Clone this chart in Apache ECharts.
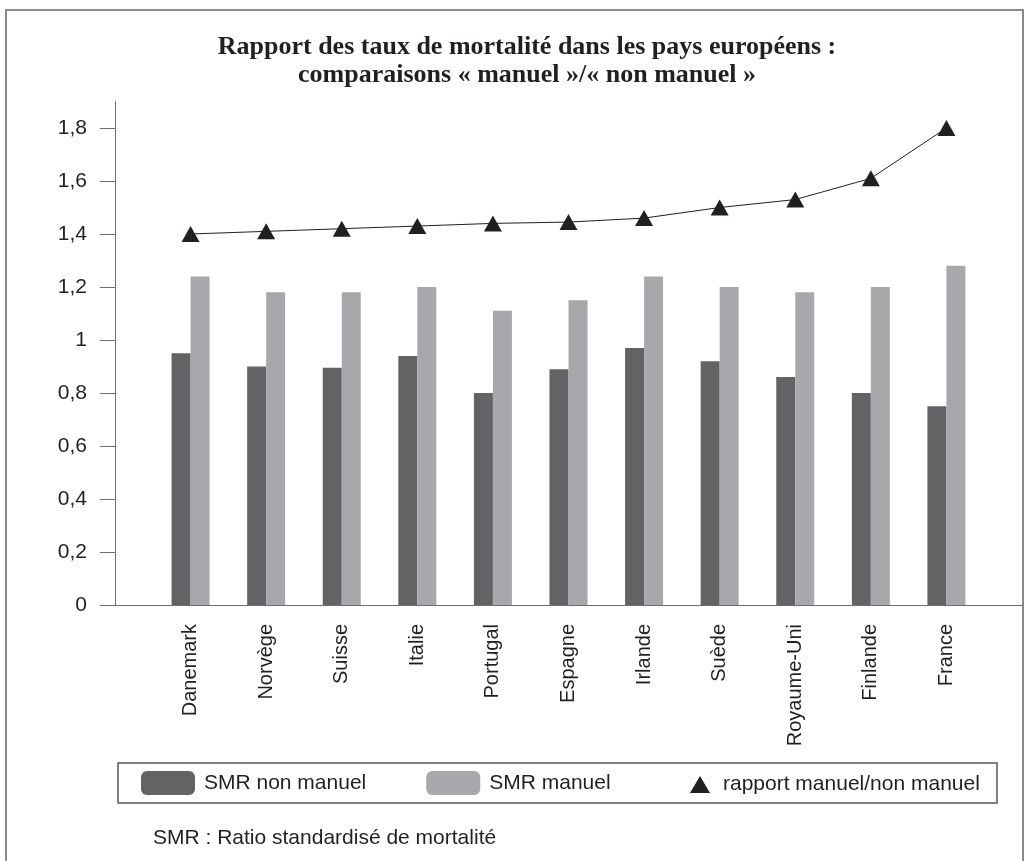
<!DOCTYPE html>
<html>
<head>
<meta charset="utf-8">
<title>Rapport des taux de mortalité</title>
<script src="https://cdn.jsdelivr.net/npm/echarts@6/dist/echarts.min.js"></script>
<style>
  html, body { margin: 0; padding: 0; background: #fff; }
  #chart { width: 1030px; height: 861px; }
</style>
</head>
<body>
<div id="chart"></div>
<script>
// donnees
var pays = ['Danemark', 'Norvège', 'Suisse', 'Italie', 'Portugal', 'Espagne',
  'Irlande', 'Suède', 'Royaume-Uni', 'Finlande', 'France'];
var smrNonManuel = [0.95, 0.90, 0.895, 0.94, 0.80, 0.89, 0.97, 0.92, 0.86, 0.80, 0.75];
var smrManuel = [1.24, 1.18, 1.18, 1.20, 1.11, 1.15, 1.24, 1.20, 1.18, 1.20, 1.28];
var rapport = [1.40, 1.41, 1.42, 1.43, 1.44, 1.445, 1.46, 1.50, 1.53, 1.61, 1.80];
var yTicks = [0, 0.2, 0.4, 0.6, 0.8, 1, 1.2, 1.4, 1.6, 1.8];

var txt = '#231f20';
var sans = '"Liberation Sans", Arial, sans-serif';

// une case vide de chaque cote, comme sur l'original
function pad(arr) {
  return [null].concat(arr, [null]);
}

var chart = echarts.init(document.getElementById('chart'));

var option = {
  backgroundColor: '#fff',
  animation: false,
  title: {
    text: 'Rapport des taux de mortalité dans les pays européens :\ncomparaisons « manuel »/« non manuel »',
    left: 527,
    top: 33,
    padding: 0,
    textAlign: 'center',
    textStyle: {
      fontFamily: '"Liberation Serif", "Times New Roman", serif',
      fontWeight: 'bold',
      fontSize: 26,
      lineHeight: 28,
      color: txt
    }
  },
  legend: [{
    data: ['SMR non manuel', 'SMR manuel'],
    left: 141,
    top: 771,
    padding: 0,
    itemWidth: 54,
    itemHeight: 24,
    itemGap: 60,
    selectedMode: false,
    textStyle: { fontFamily: sans, fontSize: 21, color: txt, padding: [0, 0, 0, 4] }
  }, {
    data: [{ name: 'rapport manuel/non manuel', icon: 'triangle' }],
    left: 690,
    top: 774,
    padding: 0,
    itemWidth: 20,
    itemHeight: 17,
    selectedMode: false,
    textStyle: { fontFamily: sans, fontSize: 21, color: txt, padding: [0, 0, 0, 8] }
  }],
  grid: {
    left: 115,
    right: 8,
    top: 101.5,
    bottom: 256,
    containLabel: false
  },
  xAxis: {
    type: 'category',
    data: [''].concat(pays, ['']),
    boundaryGap: false,
    axisLine: { lineStyle: { color: '#6d6e71', width: 1 } },
    axisTick: { show: false },
    splitLine: { show: false },
    axisLabel: {
      rotate: 90,
      margin: 19,
      interval: 0,
      fontFamily: sans,
      fontSize: 20,
      color: txt
    }
  },
  yAxis: {
    type: 'value',
    min: 0,
    max: 1.9,
    interval: 0.2,
    splitLine: { show: false },
    axisLine: { show: true, lineStyle: { color: '#6d6e71', width: 1 } },
    axisTick: {
      show: true,
      length: 15,
      customValues: yTicks,
      lineStyle: { color: '#6d6e71' }
    },
    axisLabel: {
      margin: 28,
      customValues: yTicks,
      fontFamily: sans,
      fontSize: 21,
      color: txt,
      formatter: function (v) {
        return String(Math.round(v * 10) / 10).replace('.', ',');
      }
    }
  },
  series: [{
    name: 'SMR non manuel',
    type: 'bar',
    data: pad(smrNonManuel),
    barWidth: 19,
    barGap: '0%',
    itemStyle: { color: '#636365' }
  }, {
    name: 'SMR manuel',
    type: 'bar',
    data: pad(smrManuel),
    barWidth: 19,
    itemStyle: { color: '#a7a8ab' }
  }, {
    name: 'rapport manuel/non manuel',
    type: 'line',
    data: pad(rapport),
    symbol: 'triangle',
    symbolSize: [18, 16],
    lineStyle: { color: txt, width: 1 },
    itemStyle: { color: txt },
    z: 5
  }],
  graphic: [{
    // cadre exterieur
    type: 'rect',
    shape: { x: 6, y: 10, width: 1017, height: 900 },
    style: { fill: 'none', stroke: '#8a8a8a', lineWidth: 2 },
    silent: true
  }, {
    // cadre de la legende
    type: 'rect',
    shape: { x: 118, y: 763, width: 879, height: 40 },
    style: { fill: 'none', stroke: '#555', lineWidth: 1.5 },
    silent: true
  }, {
    type: 'text',
    x: 153,
    y: 838,
    style: {
      text: 'SMR : Ratio standardisé de mortalité',
      font: '21px ' + sans,
      fill: txt,
      verticalAlign: 'middle'
    },
    silent: true
  }]
};

chart.setOption(option);
</script>
</body>
</html>
